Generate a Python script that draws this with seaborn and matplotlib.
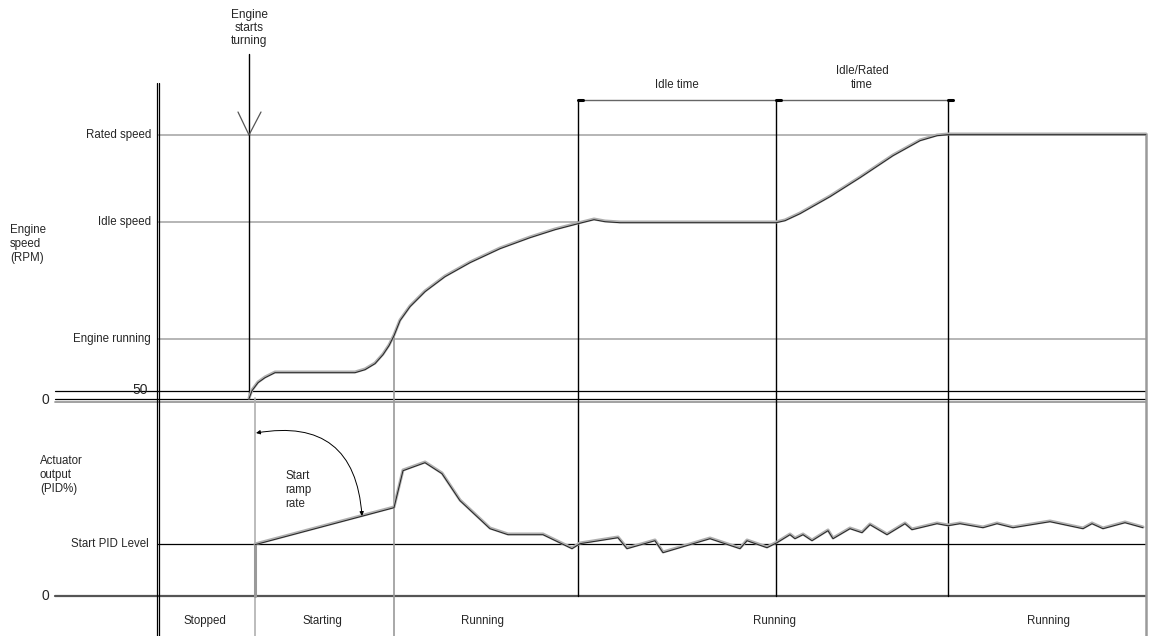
import matplotlib
matplotlib.use("Agg")
import matplotlib.pyplot as plt
import seaborn as sns
import pandas as pd

# ---- data (diagram units: x = time axis, y = chart height, downward) ----
speed_t = [249, 252, 258, 265, 275, 300, 330, 355, 365, 375, 383, 389, 394, 400, 410,
           425, 445, 470, 500, 530, 555, 578, 594, 605, 620, 700, 776, 785, 800, 830,
           860, 893, 920, 937, 948, 1000, 1146]
speed_v = [398, 390, 382, 377, 372, 372, 372, 372, 369, 363, 354, 345, 335, 320, 306,
           291, 276, 262, 248, 237, 229, 223, 219, 221, 222, 222, 222, 220, 213, 196,
           177, 155, 140, 135, 134, 134, 134]

act_t = [255, 394, 403, 425, 442, 460, 490, 508, 543, 572, 580, 618, 627, 655, 663,
         710, 740, 747, 767, 777, 790, 795, 803, 812, 828, 833, 850, 862, 870, 887,
         905, 912, 937, 948, 960, 983, 997, 1013, 1050, 1083, 1092, 1103, 1125, 1143]
act_v = [544, 507, 470, 462, 473, 500, 528, 534, 534, 548, 543, 537, 548, 540, 552,
         538, 548, 540, 547, 542, 534, 538, 534, 540, 530, 538, 528, 532, 524, 534,
         523, 529, 523, 525, 523, 527, 523, 527, 521, 528, 523, 528, 522, 527]

level_labels = ["Rated speed", "Idle speed", "Engine running"]
level_y = [135, 222, 339]
level_x_end = [1146, 578, 1146]
state_labels = ["Stopped", "Starting", "Running", "Running", "Running"]
state_x = [205, 322, 483, 775, 1048]

sns.set_theme(style="white")
plt.rcParams["font.family"] = ["Liberation Sans", "DejaVu Sans"]

fig = plt.figure(figsize=(11.52, 6.36), dpi=100)
ax = fig.add_axes([0, 0, 1, 1])

gray = "#9a9a9a"
lgray = "#b0b0b0"

# horizontal reference levels
for y, xe in zip(level_y, level_x_end):
    ax.plot([158, xe], [y, y], color=lgray, lw=1.3)
ax.plot([55, 1146], [391, 391], color="black", lw=0.9)
ax.plot([55, 1146], [399, 399], color="black", lw=0.9)
ax.plot([55, 1146], [401.5, 401.5], color=gray, lw=1.3)
ax.plot([158, 1146], [544, 544], color="black", lw=0.9)
ax.plot([55, 1146], [596, 596], color="#555555", lw=1.6)

# vertical lines
ax.plot([156.5, 156.5], [83, 636], color="black", lw=0.9)
ax.plot([159, 159], [83, 636], color="black", lw=0.9)
ax.plot([249, 249], [54, 398], color="black", lw=1.0)
ax.plot([238, 249, 261], [112, 135, 112], color="#555555", lw=0.9)
ax.plot([255, 255], [398, 636], color=lgray, lw=1.2)
ax.plot([255, 255], [544, 596], color=gray, lw=2.2)
ax.plot([394, 394], [337, 636], color=gray, lw=1.2)
for x in [578, 776, 948]:
    ax.plot([x, x], [100, 596], color="black", lw=1.0)
ax.plot([1146, 1146], [134, 636], color=gray, lw=1.8)

# time brackets
ax.plot([578, 948], [100, 100], color="#666666", lw=1.0)
for x in [578, 776, 948]:
    ax.plot([x, x + 5], [100, 100], color="black", lw=2.2)

# curves (double-stroke look)
sdf = pd.DataFrame({"t": speed_t, "v": speed_v})
adf = pd.DataFrame({"t": act_t, "v": act_v})
for df in (sdf, adf):
    sns.lineplot(data=df, x="t", y="v", ax=ax, sort=False, estimator=None,
                 color=lgray, lw=2.2)
    sns.lineplot(data=df.assign(v=df["v"] + 0.7), x="t", y="v", ax=ax, sort=False,
                 estimator=None, color="#222222", lw=0.7)
ax.set_xlim(0, 1152)
ax.set_ylim(636, 0)
ax.axis("off")

# start ramp arc arrow
ax.annotate("", xy=(362, 516), xytext=(256, 433),
            arrowprops=dict(arrowstyle="<|-|>", color="black", lw=0.7,
                            mutation_scale=6,
                            connectionstyle="arc3,rad=-0.55", shrinkA=0, shrinkB=0))

fs = 8.3
ax.text(249, 28, "Engine\nstarts\nturning", ha="center", va="center", fontsize=8.6,
        linespacing=1.15)
for lab, y in zip(level_labels, level_y):
    ax.text(151, y, lab, ha="right", va="center", fontsize=fs)
ax.text(148, 390, "50", ha="right", va="center", fontsize=10)
ax.text(49, 400, "0", ha="right", va="center", fontsize=10)
ax.text(49, 596, "0", ha="right", va="center", fontsize=10)
ax.text(10, 244, "Engine\nspeed\n(RPM)", ha="left", va="center", fontsize=fs,
        linespacing=1.25)
ax.text(40, 475, "Actuator\noutput\n(PID%)", ha="left", va="center", fontsize=fs,
        linespacing=1.2)
ax.text(149, 544, "Start PID Level", ha="right", va="center", fontsize=fs)
ax.text(285, 490, "Start\nramp\nrate", ha="left", va="center", fontsize=fs,
        linespacing=1.25)
ax.text(677, 85, "Idle time", ha="center", va="center", fontsize=fs)
ax.text(862, 78, "Idle/Rated\ntime", ha="center", va="center", fontsize=fs,
        linespacing=1.2)
for lab, x in zip(state_labels, state_x):
    ax.text(x, 621, lab, ha="center", va="center", fontsize=fs)

fig.savefig("out.png", dpi=100)
